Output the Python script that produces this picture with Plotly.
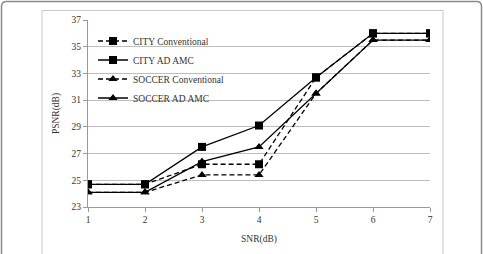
import plotly.graph_objects as go

snr = [1, 2, 3, 4, 5, 6, 7]
city_conv = [24.7, 24.7, 26.2, 26.2, 32.7, 36.0, 36.0]
city_amc = [24.7, 24.7, 27.5, 29.1, 32.7, 36.0, 36.0]
soccer_conv = [24.1, 24.1, 25.4, 25.4, 31.5, 35.5, 35.5]
soccer_amc = [24.1, 24.1, 26.4, 27.5, 31.5, 35.5, 35.5]
y_ticks = [23, 25, 27, 29, 31, 33, 35, 37]

W, H = 483, 254
L, R, T, B = 88, 53, 20, 47
pw, ph = W - L - R, H - T - B

def px(x):
    return (x - L) / pw

def py(y):
    return (H - B - y) / ph

FONT = "Liberation Serif"

fig = go.Figure()
series = [
    ("CITY Conventional", city_conv, "square", "dash"),
    ("CITY AD AMC", city_amc, "square", "solid"),
    ("SOCCER Conventional", soccer_conv, "triangle-up", "dash"),
    ("SOCCER AD AMC", soccer_amc, "triangle-up", "solid"),
]
for name, ys, sym, dash in series:
    fig.add_trace(go.Scatter(
        x=snr, y=ys, name=name, mode="lines+markers",
        line=dict(color="black", width=1.3, dash="5px,3px" if dash == "dash" else "solid"),
        marker=dict(symbol=sym, size=8, color="black"),
    ))

# outer rounded frame and inner chart box
r = 5
x0, x1, y0, y1 = 1.5, 481.5, 1.5, 260
path = (f"M {px(x0+r)},{py(y0)} L {px(x1-r)},{py(y0)} Q {px(x1)},{py(y0)} {px(x1)},{py(y0+r)} "
        f"L {px(x1)},{py(y1)} L {px(x0)},{py(y1)} L {px(x0)},{py(y0+r)} Q {px(x0)},{py(y0)} {px(x0+r)},{py(y0)} Z")
shapes = [
    dict(type="path", xref="paper", yref="paper", path=path, line=dict(color="#8a8a8a", width=1.5)),
    dict(type="rect", xref="paper", yref="paper", x0=px(42), x1=px(443), y0=py(260), y1=py(10.5),
         line=dict(color="#c8c8c8", width=1)),
]

fig.update_layout(
    width=W, height=H,
    margin=dict(l=L, r=R, t=T, b=B),
    paper_bgcolor="white", plot_bgcolor="white",
    font=dict(family=FONT, size=9.5, color="#333"),
    shapes=shapes,
    showlegend=True,
    legend=dict(x=px(93), y=py(26.5), xanchor="left", yanchor="top",
                bgcolor="rgba(0,0,0,0)", font=dict(family=FONT, size=9.5, color="#333"),
                tracegroupgap=0, itemwidth=30),
    xaxis=dict(range=[1, 7], tickvals=snr, showgrid=False, showline=True, linecolor="#999",
               ticks="outside", ticklen=4, tickcolor="#999", zeroline=False,
               title=dict(text="SNR(dB)", font=dict(family=FONT, size=9.5, color="#333"), standoff=10)),
    yaxis=dict(range=[23, 37], tickvals=y_ticks, showgrid=True, gridcolor="#bdbdbd", gridwidth=1,
               showline=True, linecolor="#999", ticks="outside", ticklen=4, tickcolor="#999",
               zeroline=False,
               title=dict(text="PSNR(dB)", font=dict(family=FONT, size=9.5, color="#333"), standoff=10)),
)

fig.write_html("out.html")
